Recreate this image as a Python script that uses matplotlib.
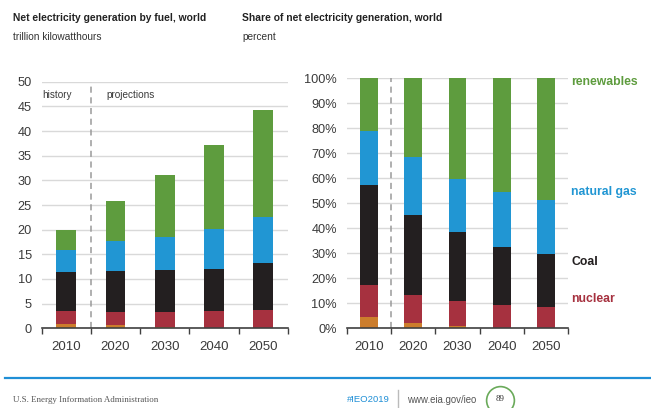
import matplotlib

matplotlib.use("Agg")
import matplotlib.pyplot as plt
import numpy as np
from matplotlib.lines import Line2D

plt.rcParams["font.family"] = ["Liberation Sans", "DejaVu Sans"]

years = ["2010", "2020", "2030", "2040", "2050"]

# net generation by fuel, trillion kWh (bottom to top of each stack)
liquids = [0.9, 0.6, 0.3, 0.1, 0.1]
nuclear = [2.6, 2.8, 3.1, 3.4, 3.7]
coal = [8.0, 8.3, 8.5, 8.5, 9.4]
natural_gas = [4.3, 6.0, 6.6, 8.2, 9.4]
renewables = [4.2, 8.1, 12.5, 16.9, 21.6]

fuel_names = ["liquids", "nuclear", "Coal", "natural gas", "renewables"]
fuel_colors = ["#cc7d2c", "#a6313f", "#231f20", "#2196d3", "#5e9c3e"]

left_ticks = list(range(0, 55, 5))
right_ticks = list(range(0, 110, 10))

grid_color = "#d9d9d9"
text_color = "#3a3a3a"

fig = plt.figure(figsize=(6.51, 4.08), dpi=100)

stack = np.array([liquids, nuclear, coal, natural_gas, renewables])
share = stack / stack.sum(axis=0) * 100
x = np.arange(len(years))


def style_axes(ax, ylim, ticks, fmt):
    ax.set_xlim(-0.5, len(years) - 0.5)
    ax.set_ylim(*ylim)
    ax.set_yticks(ticks)
    ax.set_yticklabels([fmt(t) for t in ticks])
    ax.set_xticks(x)
    ax.set_xticklabels(years)
    ax.set_xticks(np.arange(-0.5, len(years)), minor=True)
    ax.tick_params(axis="x", which="major", length=0, pad=9, labelsize=9.5,
                   labelcolor=text_color)
    ax.tick_params(axis="x", which="minor", length=4, width=1, color="#404040",
                   direction="out")
    ax.tick_params(axis="y", length=0, pad=7, labelsize=9.2, labelcolor=text_color)
    for side in ("left", "top", "right"):
        ax.spines[side].set_visible(False)
    ax.spines["bottom"].set_color("#404040")
    ax.spines["bottom"].set_linewidth(1.2)
    ax.grid(axis="y", color=grid_color, linewidth=1)
    ax.set_axisbelow(True)
    # history / projections divider
    ax.axvline(0.5, color="#9a9a9a", linestyle=(0, (4, 3)), linewidth=1.1, zorder=1)


def draw_stack(ax, values):
    bottom = np.zeros(len(years))
    for row, color in zip(values, fuel_colors):
        ax.bar(x, row, width=0.4, bottom=bottom, color=color, zorder=2)
        bottom += row


# left panel: absolute generation
ax1 = fig.add_axes([0.064, 0.1953, 0.378, 0.6044])
draw_stack(ax1, stack)
style_axes(ax1, (0, 50), left_ticks, lambda t: f"{t}")
ax1.text(-0.49, 47.3, "history", fontsize=7.2, color=text_color, va="center", ha="left")
ax1.text(0.82, 47.3, "projections", fontsize=7.2, color=text_color, va="center",
         ha="left")

# right panel: shares
ax2 = fig.add_axes([0.5326, 0.1953, 0.340, 0.6127])
draw_stack(ax2, share)
style_axes(ax2, (0, 100), right_ticks, lambda t: f"{t}%")

label_y = {"renewables": 98.6, "natural gas": 54.4, "Coal": 26.6, "nuclear": 11.6}
for name, color in zip(fuel_names, fuel_colors):
    if name in label_y:
        ax2.text(4.57, label_y[name], name, color=color, fontsize=8.8,
                 fontweight="bold", va="center", ha="left")

# titles
fig.text(13 / 651, 1 - 18 / 408, "Net electricity generation by fuel, world",
         fontsize=7.4, fontweight="bold", color="#222222", va="center")
fig.text(13 / 651, 1 - 37 / 408, "trillion kilowatthours", fontsize=7.3,
         color="#333333", va="center")
fig.text(242 / 651, 1 - 18 / 408, "Share of net electricity generation, world",
         fontsize=7.4, fontweight="bold", color="#222222", va="center")
fig.text(242 / 651, 1 - 37 / 408, "percent", fontsize=7.3, color="#333333",
         va="center")

# footer
fig.add_artist(Line2D([5 / 651, 1.0], [1 - 378 / 408] * 2, color="#1f8fd6",
                      linewidth=1.6))
fig.text(13 / 651, 1 - 400 / 408, "U.S. Energy Information Administration",
         family=["Liberation Serif", "DejaVu Serif"], fontsize=6.4, color="#555555",
         va="center")
fig.text(347 / 651, 1 - 400 / 408, "#IEO2019", fontsize=6.8, color="#1f8fd6",
         va="center")
fig.add_artist(Line2D([398 / 651] * 2, [1 - 390 / 408, 0.0],
                      color="#bbbbbb", linewidth=1))
fig.text(407 / 651, 1 - 400 / 408, "www.eia.gov/ieo", fontsize=6.9, color="#555555",
         va="center")
fig.add_artist(Line2D([500 / 651], [1 - 400 / 408], marker="o", markersize=20,
                      markerfacecolor="none", markeredgecolor="#6aaa5a",
                      markeredgewidth=1.2))
fig.text(500 / 651, 1 - 399 / 408, "89", family=["Liberation Serif", "DejaVu Serif"],
         fontsize=6.5, color="#333333", ha="center", va="center")

fig.savefig("out.png", dpi=100)
